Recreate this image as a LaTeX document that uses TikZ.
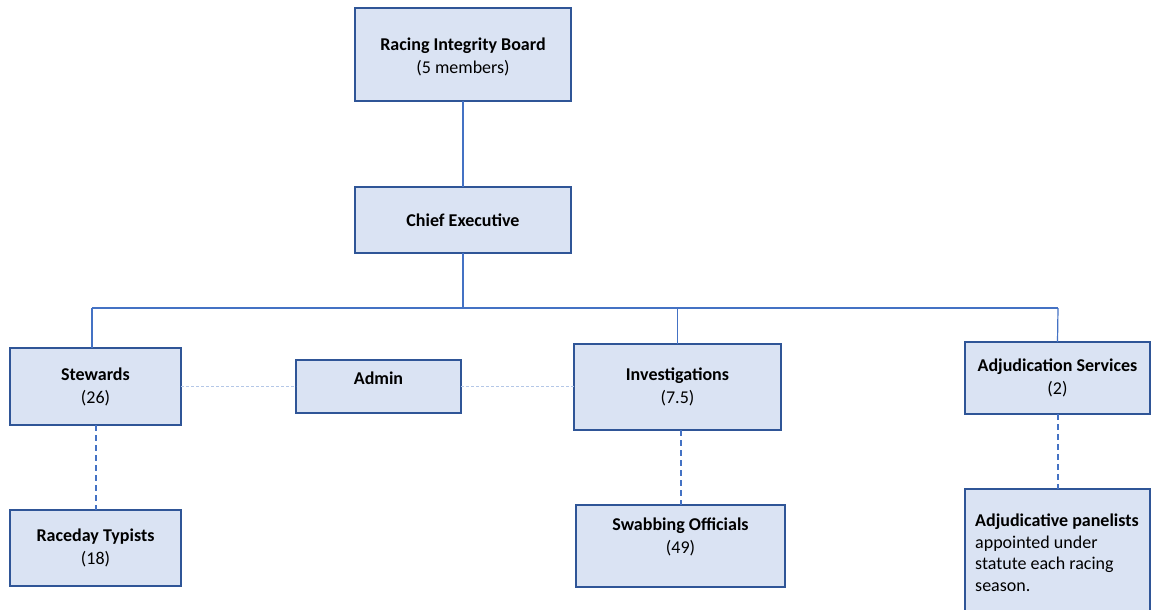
\documentclass[tikz,border=0pt]{standalone}
\usepackage{fontspec}
\setmainfont{Carlito}
\definecolor{boxfill}{HTML}{DAE3F3}
\definecolor{boxline}{HTML}{2F5597}
\definecolor{conn}{HTML}{4472C4}
\definecolor{faint}{HTML}{B4C7E7}
\tikzset{
  box/.style={draw=boxline, line width=2pt, fill=boxfill, rectangle, inner sep=0pt, outer sep=0pt, align=center, font=\fontsize{18}{23}\selectfont},
  solidconn/.style={draw=conn, line width=1.2pt},
  dashconn/.style={draw=conn, line width=2pt, dash pattern=on 6pt off 4pt},
  faintconn/.style={draw=faint, line width=1pt, dash pattern=on 3pt off 2pt},
  txt/.style={inner sep=0pt, font=\fontsize{18}{23}\selectfont}
}
\begin{document}
\begin{tikzpicture}[x=1pt, y=-1pt]
\useasboundingbox (0,0) rectangle (1151,610);
\clip (0,0) rectangle (1151,610);
\fill[white] (0,0) rectangle (1151,610);

\node[box, minimum width=216pt, minimum height=93pt] (board) at (463,54.5) {};
\node[txt, align=center] (boardtext) at (463,57) {\textbf{Racing Integrity Board}\\(5 members)};
\node[box, minimum width=216pt, minimum height=66pt] (ce) at (463,220) {\textbf{Chief Executive}};
\node[box, minimum width=171pt, minimum height=77pt] (stew) at (95.5,386.5) {\textbf{Stewards}\\(26)};
\node[box, minimum width=165pt, minimum height=53pt] (admin) at (378.5,386.5) {};
\node[txt] (admintext) at (378.5,378) {\textbf{Admin}};
\node[box, minimum width=207pt, minimum height=86pt] (inv) at (677.5,387) {\textbf{Investigations}\\(7.5)};
\node[box, minimum width=185pt, minimum height=72pt] (adj) at (1057.5,378) {\textbf{Adjudication Services}\\(2)};
\node[box, minimum width=171pt, minimum height=76pt] (race) at (95.5,548) {\textbf{Raceday Typists}\\(18)};
\node[box, minimum width=209pt, minimum height=82pt] (swab) at (680.5,546) {};
\node[txt, align=center] (swabtext) at (680.5,537) {\textbf{Swabbing Officials}\\(49)};
\node[box, minimum width=185pt, minimum height=151pt] (panel) at (1057.5,564.5) {};
\node[txt, align=left, anchor=north west, font=\fontsize{18}{21.5}\selectfont] (paneltext) at (975,514) {\textbf{Adjudicative panelists}\\appointed under\\statute each racing\\season.};

\coordinate (barmid) at (463,308);
\coordinate (barL) at (92,308);
\coordinate (barR) at (1058,308);

\draw[solidconn] (board.south) -- (ce.north);
\draw[solidconn] (ce.south) -- (barmid);
\draw[solidconn] (barL) -- (barR);
\draw[solidconn] (barL) -- (barL |- stew.north);
\draw[solidconn] (inv.north |- barL) -- (inv.north);
\draw[solidconn] (barR) -- (adj.north);

\draw[faintconn] (stew.east |- admin.west) -- (admin.west);
\draw[faintconn] (admin.east) -- (inv.west |- admin.east);

\draw[dashconn] (stew.south) -- (race.north);
\draw[dashconn] (swab.north |- inv.south) -- (swab.north);
\draw[dashconn] (adj.south) -- (panel.north);
\end{tikzpicture}
\end{document}
